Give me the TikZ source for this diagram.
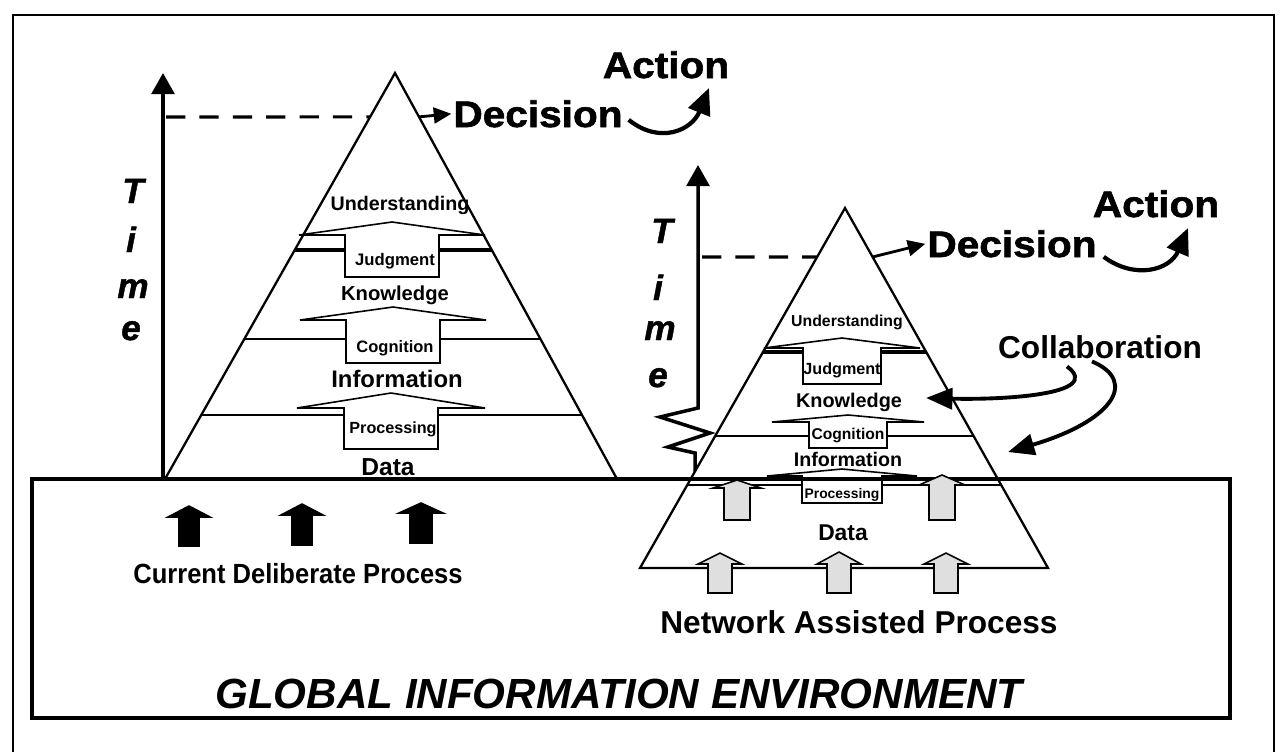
\documentclass[tikz,border=0pt]{standalone}
\usepackage{fontspec}
\setmainfont{Liberation Sans}
\newfontfamily\blackfont[FakeStretch=1.1,FakeBold=1.6]{Liberation Sans Bold}
\newfontfamily\heavyitfont[FakeBold=1.2]{Liberation Sans Bold Italic}
\newfontfamily\narrowfont[FakeStretch=0.92]{Liberation Sans}
\usepackage{tikz}
\usetikzlibrary{arrows.meta,calc}

\newcommand{\fsz}[1]{\fontsize{#1}{#1}\selectfont}
% block arrow: [style]{x}{tip y}{wing y}{half wing}{half shaft}{bottom y}
\newcommand{\blockarrow}[7][]{%
	\draw[arrowbox,#1] (#2-#6,#7) -- (#2-#6,#4) -- (#2-#5,#4) -- (#2,#3)
		-- (#2+#5,#4) -- (#2+#6,#4) -- (#2+#6,#7) -- cycle;}

\begin{document}
\begin{tikzpicture}[x=0.02cm,y=-0.02cm]
	\tikzstyle{lbl}=[inner sep=1pt,anchor=base]
	\tikzstyle{pyramid}=[draw,line width=1.3pt,fill=white]
	\tikzstyle{layer}=[line width=0.9pt]
	\tikzstyle{arrowbox}=[draw,line width=0.9pt,fill=white]
	\tikzstyle{timeaxis}=[line width=2pt,-{Triangle[width=13pt,length=12pt]}]
	\tikzstyle{dashline}=[line width=1.8pt,dash pattern=on 11pt off 8pt]
	\tikzstyle{pointer}=[line width=1.6pt,-{Triangle[width=9pt,length=10pt]}]
	\tikzstyle{bendarrow}=[line width=2.4pt,-{Triangle[width=13pt,length=15pt]}]
	\tikzstyle{letter}=[font=\heavyitfont\fsz{20},inner sep=0pt,anchor=base]

	\useasboundingbox (0,0) rectangle (1281,752);
	\draw[line width=0.7pt] (13,752) -- (13,15) -- (1274,15) -- (1274,752);

	% current deliberate process
	\coordinate (lapex) at (395,73);
	\coordinate (lleft) at (165,479);
	\coordinate (lright) at (617,479);

	\draw[timeaxis] (163,480) -- (163,73);
	\draw[dashline] (166,117) -- ($(lapex)!0.108!(lleft)$);
	\node[letter] (t1) at (133,203) {T};
	\node[letter] (i1) at (131,252) {i};
	\node[letter] (m1) at (133,298) {m};
	\node[letter] (e1) at (131,340) {e};

	\draw[pyramid] (lapex) -- (lright) -- (lleft) -- cycle;
	\begin{scope}
		\clip (lapex) -- (lright) -- (lleft) -- cycle;
		\draw[layer,line width=1.8pt] (150,250) -- (650,250);
		\draw[layer] (150,339) -- (650,339);
		\draw[layer] (150,415) -- (650,415);
	\end{scope}
	\blockarrow{392}{222}{235}{93}{47}{277}
	\blockarrow{393}{307}{320}{93}{47}{363}
	\blockarrow{391}{393}{408}{94}{47}{449}

	\node[lbl,font=\bfseries\fsz{11.2}] (und1) at (400,210) {Understanding};
	\node[lbl,font=\bfseries\fsz{9.5}] (jud1) at (395,265) {Judgment};
	\node[lbl,font=\bfseries\fsz{11.5}] (kno1) at (395,300) {Knowledge};
	\node[lbl,font=\bfseries\fsz{9.4}] (cog1) at (395,352) {Cognition};
	\node[lbl,font=\bfseries\fsz{13.6}] (inf1) at (397,387) {Information};
	\node[lbl,font=\bfseries\fsz{9.2}] (pro1) at (393,433) {Processing};
	\node[lbl,font=\bfseries\fsz{14}] (dat1) at (388,475) {Data};

	\node[lbl,font=\blackfont\fsz{21}] (dec1) at (538,127) {Decision};
	\node[lbl,font=\blackfont\fsz{21}] (act1) at (666,78) {Action};
	\draw[pointer] ($(lapex)!0.108!(lright)$) -- (dec1.west);
	\draw[bendarrow] ($(dec1.east)+(4,6)$) .. controls (660,145) and (692,130) .. (709,88);

	% network assisted process
	\coordinate (rapex) at (845,208);
	\coordinate (rleft) at (640,568);
	\coordinate (rright) at (1048,568);

	\draw[timeaxis] (695,480) -- (695,453) -- (668,447) -- (710,433) -- (660,417)
		-- (698,408) -- (698,165);
	\draw[dashline] (702,257) -- ($(rapex)!0.136!(rleft)$);
	\node[letter] (t2) at (662,243) {T};
	\node[letter] (i2) at (658,300) {i};
	\node[letter] (m2) at (660,340) {m};
	\node[letter] (e2) at (658,387) {e};

	\draw[pyramid] (rapex) -- (rright) -- (rleft) -- cycle;
	\begin{scope}
		\clip (rapex) -- (rright) -- (rleft) -- cycle;
		\draw[layer,line width=1.8pt] (600,352) -- (1100,352);
		\draw[layer] (600,436) -- (1100,436);
		\draw[layer] (600,485) -- (1100,485);
	\end{scope}
	\blockarrow{842}{338}{348}{78}{39}{384}
	\blockarrow{848}{415}{422}{76}{39}{448}
	\blockarrow{842}{469}{476}{75}{40}{503}

	\node[lbl,font=\bfseries\fsz{9}] (und2) at (847,326) {Understanding};
	\node[lbl,font=\bfseries\fsz{9.2}] (jud2) at (842,374) {Judgment};
	\node[lbl,font=\bfseries\fsz{11.3}] (kno2) at (849,407) {Knowledge};
	\node[lbl,font=\bfseries\fsz{8.9}] (cog2) at (848,439) {Cognition};
	\node[lbl,font=\bfseries\fsz{11.2}] (inf2) at (848,466) {Information};
	\node[lbl,font=\bfseries\fsz{7.9}] (pro2) at (842,498) {Processing};
	\node[lbl,font=\bfseries\fsz{13}] (dat2) at (843,540) {Data};

	\node[lbl,font=\blackfont\fsz{21}] (dec2) at (1012,257) {Decision};
	\node[lbl,font=\blackfont\fsz{21}] (act2) at (1156,217) {Action};
	\draw[pointer] ($(rapex)!0.136!(rright)$) -- (dec2.west);
	\draw[bendarrow] ($(dec2.east)+(5,13)$) .. controls (1135,280) and (1170,270) .. (1188,228);

	% global information environment
	\draw[line width=2.1pt] (32,479) rectangle (1230,718);

	\blockarrow[fill=black]{189}{506}{517}{21}{10}{546}
	\blockarrow[fill=black]{302}{504}{515}{21}{10}{545}
	\blockarrow[fill=black]{421}{503}{513}{22}{11}{543}

	\blockarrow[fill=gray!25]{737}{480}{488}{24}{13}{520}
	\blockarrow[fill=gray!25]{942}{475}{485}{23}{13}{520}
	\blockarrow[fill=gray!25]{720}{553}{564}{22}{12}{593}
	\blockarrow[fill=gray!25]{839}{552}{564}{22}{12}{593}
	\blockarrow[fill=gray!25]{946}{553}{564}{22}{12}{593}

	\node[lbl,font=\narrowfont\bfseries\fsz{15.8}] (cdp) at (298,583) {Current Deliberate Process};
	\node[lbl,font=\bfseries\fsz{18}] (nap) at (859,633) {Network Assisted Process};
	\node[lbl,font=\bfseries\itshape\fsz{24}] (gie) at (619,708) {GLOBAL INFORMATION ENVIRONMENT};

	% collaboration
	\node[lbl,font=\bfseries\fsz{18}] (col) at (1100,358) {Collaboration};
	\coordinate (colb) at (1008,452);
	\draw[bendarrow,line width=2.2pt,-{Triangle[width=12pt,length=15pt]}]
		($(col.south)+(-33,6)$) .. controls (1105,395) and (1000,400) .. ($(kno2.east)+(22,-4)$);
	\draw[bendarrow,line width=2.2pt,-{Triangle[width=12pt,length=15pt]}]
		($(col.south)+(-8,1)$) .. controls (1140,382) and (1110,422) .. (colb);
\end{tikzpicture}
\end{document}
